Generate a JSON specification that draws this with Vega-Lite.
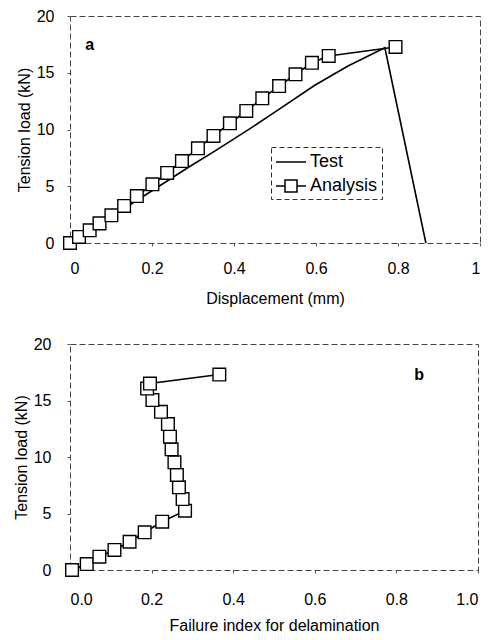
{
  "$schema": "https://vega.github.io/schema/vega-lite/v6.json",
  "padding": {"left": 12, "top": 7, "right": 2, "bottom": 5},
  "spacing": 28,
  "config": {
    "font": "Liberation Sans",
    "view": {"stroke": "#444", "strokeDash": [6, 3], "strokeWidth": 1},
    "axis": {
      "domain": false,
      "grid": false,
      "tickSize": 3,
      "tickColor": "#555",
      "labelFontSize": 16,
      "labelColor": "#000",
      "titleFontSize": 16,
      "titleFontWeight": "normal",
      "titleColor": "#000"
    }
  },
  "datasets": {
    "top": [
      {"s": "Test", "i": 0, "x": 0, "y": 0},
      {"s": "Test", "i": 1, "x": 0.1, "y": 2.3},
      {"s": "Test", "i": 2, "x": 0.2, "y": 4.6},
      {"s": "Test", "i": 3, "x": 0.29, "y": 6.7},
      {"s": "Test", "i": 4, "x": 0.353, "y": 8.1},
      {"s": "Test", "i": 5, "x": 0.44, "y": 10.1},
      {"s": "Test", "i": 6, "x": 0.515, "y": 11.9},
      {"s": "Test", "i": 7, "x": 0.597, "y": 13.9},
      {"s": "Test", "i": 8, "x": 0.678, "y": 15.6},
      {"s": "Test", "i": 9, "x": 0.768, "y": 17.2},
      {"s": "Test", "i": 10, "x": 0.868, "y": 0},
      {"s": "Analysis", "i": 0, "x": 0, "y": 0},
      {"s": "Analysis", "i": 1, "x": 0.022, "y": 0.53},
      {"s": "Analysis", "i": 2, "x": 0.048, "y": 1.12},
      {"s": "Analysis", "i": 3, "x": 0.072, "y": 1.73},
      {"s": "Analysis", "i": 4, "x": 0.101, "y": 2.44},
      {"s": "Analysis", "i": 5, "x": 0.132, "y": 3.26},
      {"s": "Analysis", "i": 6, "x": 0.163, "y": 4.14},
      {"s": "Analysis", "i": 7, "x": 0.201, "y": 5.17},
      {"s": "Analysis", "i": 8, "x": 0.237, "y": 6.17},
      {"s": "Analysis", "i": 9, "x": 0.273, "y": 7.22},
      {"s": "Analysis", "i": 10, "x": 0.312, "y": 8.34},
      {"s": "Analysis", "i": 11, "x": 0.35, "y": 9.43},
      {"s": "Analysis", "i": 12, "x": 0.39, "y": 10.55},
      {"s": "Analysis", "i": 13, "x": 0.43, "y": 11.63},
      {"s": "Analysis", "i": 14, "x": 0.469, "y": 12.75},
      {"s": "Analysis", "i": 15, "x": 0.51, "y": 13.83},
      {"s": "Analysis", "i": 16, "x": 0.55, "y": 14.86},
      {"s": "Analysis", "i": 17, "x": 0.59, "y": 15.88},
      {"s": "Analysis", "i": 18, "x": 0.631, "y": 16.48},
      {"s": "Analysis", "i": 19, "x": 0.794, "y": 17.27}
    ],
    "bottom": [
      {"s": "Analysis", "i": 0, "x": 0.005, "y": 0},
      {"s": "Analysis", "i": 1, "x": 0.041, "y": 0.53},
      {"s": "Analysis", "i": 2, "x": 0.072, "y": 1.18},
      {"s": "Analysis", "i": 3, "x": 0.109, "y": 1.77},
      {"s": "Analysis", "i": 4, "x": 0.146, "y": 2.5},
      {"s": "Analysis", "i": 5, "x": 0.183, "y": 3.34},
      {"s": "Analysis", "i": 6, "x": 0.226, "y": 4.27},
      {"s": "Analysis", "i": 7, "x": 0.282, "y": 5.25},
      {"s": "Analysis", "i": 8, "x": 0.276, "y": 6.28},
      {"s": "Analysis", "i": 9, "x": 0.267, "y": 7.32},
      {"s": "Analysis", "i": 10, "x": 0.262, "y": 8.41},
      {"s": "Analysis", "i": 11, "x": 0.256, "y": 9.53},
      {"s": "Analysis", "i": 12, "x": 0.249, "y": 10.68},
      {"s": "Analysis", "i": 13, "x": 0.245, "y": 11.8},
      {"s": "Analysis", "i": 14, "x": 0.24, "y": 12.92},
      {"s": "Analysis", "i": 15, "x": 0.223, "y": 14.0},
      {"s": "Analysis", "i": 16, "x": 0.202, "y": 15.04},
      {"s": "Analysis", "i": 17, "x": 0.189, "y": 16.06},
      {"s": "Analysis", "i": 18, "x": 0.196, "y": 16.5},
      {"s": "Analysis", "i": 19, "x": 0.366, "y": 17.3}
    ],
    "labA": [{"x": 0.048, "y": 17.47, "t": "a"}],
    "labB": [{"x": 0.856, "y": 17.26, "t": "b"}]
  },
  "vconcat": [
    {
      "width": 410,
      "height": 227,
      "encoding": {
        "x": {"field": "x", "type": "quantitative", "scale": {"domain": [0, 1], "nice": false},
              "axis": {"title": "Displacement (mm)", "values": [0, 0.2, 0.4, 0.6, 0.8, 1], "format": "~g", "labelPadding": 14, "titlePadding": 14}},
        "y": {"field": "y", "type": "quantitative", "scale": {"domain": [0, 20], "nice": false},
              "axis": {"title": "Tension load (kN)", "values": [0, 5, 10, 15, 20], "labelPadding": 13, "titlePadding": 4}}
      },
      "layer": [
        {
          "data": {"name": "top"},
          "mark": {"type": "line", "strokeWidth": 1.6},
          "encoding": {
            "order": {"field": "i", "type": "quantitative"},
            "color": {
              "field": "s", "type": "nominal",
              "scale": {"domain": ["Test", "Analysis"], "range": ["#000", "#000"]},
              "legend": {
                "title": null,
                "orient": "none",
                "legendX": 201,
                "legendY": 131,
                "labelFontSize": 18,
                "labelColor": "#000",
                "symbolSize": 400,
                "symbolStrokeWidth": 1.5,
                "rowPadding": 4,
                "padding": 4,
                "labelOffset": 13,
                "strokeColor": "#333",
                "encode": {
                  "legend": {"update": {"strokeDash": {"value": [5, 3]}}},
                  "symbols": {"update": {
                    "shape": {"signal": "datum.value === 'Test' ? 'M-1,0H2' : 'M-1,0H-0.1M1.1,0H2M-0.1,-0.6H1.1V0.6H-0.1Z'"},
                    "fill": {"value": "#fff"},
                    "stroke": {"value": "#000"},
                    "strokeWidth": {"value": 1.5}
                  }}
                }
              }
            }
          }
        },
        {
          "data": {"name": "top"},
          "transform": [{"filter": "datum.s === 'Analysis'"}],
          "mark": {"type": "point", "shape": "square", "filled": true, "fill": "#fff", "stroke": "#000", "strokeWidth": 1.4, "size": 160, "opacity": 1}
        },
        {
          "data": {"name": "labA"},
          "mark": {"type": "text", "fontSize": 16, "fontWeight": "bold", "color": "#000"},
          "encoding": {"text": {"field": "t"}}
        }
      ]
    },
    {
      "width": 408,
      "height": 226,
      "encoding": {
        "x": {"field": "x", "type": "quantitative", "scale": {"domain": [0, 1], "nice": false},
              "axis": {"title": "Failure index for delamination", "values": [0, 0.2, 0.4, 0.6, 0.8, 1], "format": ".1f", "labelPadding": 18, "titlePadding": 10}},
        "y": {"field": "y", "type": "quantitative", "scale": {"domain": [0, 20], "nice": false},
              "axis": {"title": "Tension load (kN)", "values": [0, 5, 10, 15, 20], "labelPadding": 16, "titlePadding": 4}}
      },
      "layer": [
        {
          "data": {"name": "bottom"},
          "mark": {"type": "line", "strokeWidth": 1.6, "color": "#000"},
          "encoding": {"order": {"field": "i", "type": "quantitative"}}
        },
        {
          "data": {"name": "bottom"},
          "mark": {"type": "point", "shape": "square", "filled": true, "fill": "#fff", "stroke": "#000", "strokeWidth": 1.4, "size": 160, "opacity": 1}
        },
        {
          "data": {"name": "labB"},
          "mark": {"type": "text", "fontSize": 16, "fontWeight": "bold", "color": "#000"},
          "encoding": {"text": {"field": "t"}}
        }
      ]
    }
  ]
}
